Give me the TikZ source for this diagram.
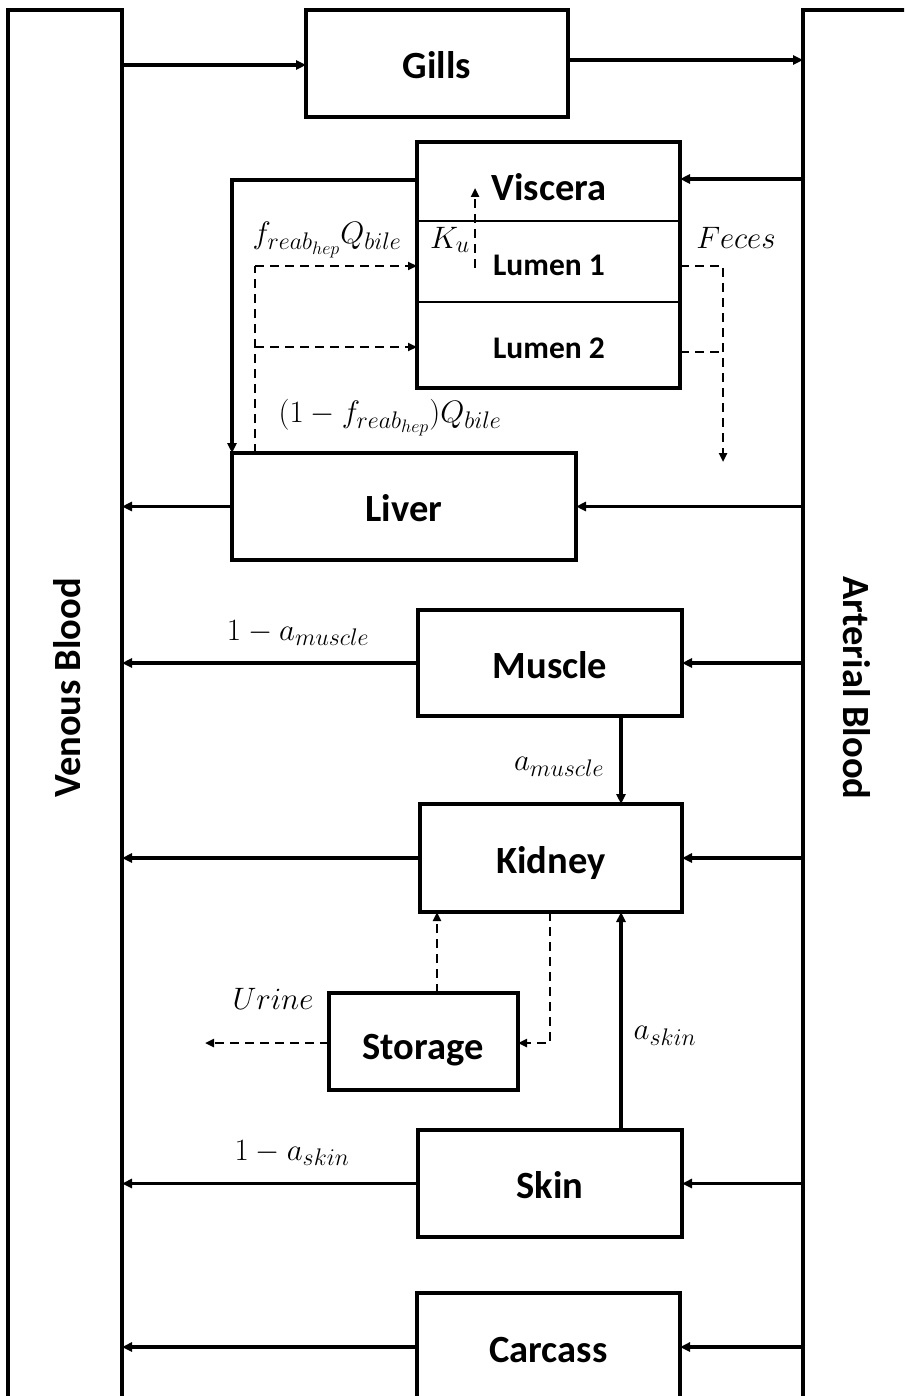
\RequirePackage{fix-cm}
\documentclass[tikz,border=0pt]{standalone}
\usepackage{fontspec}
\newfontfamily\boxfont[BoldFont={Carlito Bold}]{Carlito}
\usetikzlibrary{arrows.meta,calc}
\DeclareMathSizes{31}{31}{24}{18}

\tikzset{
  organ/.style={draw, line width=4.5pt, rectangle, inner sep=0pt, outer sep=0pt,
    text height=30pt, text depth=0pt,
    font=\boxfont\bfseries\fontsize{38.5}{42}\selectfont},
  sublabel/.style={inner sep=0pt, font=\boxfont\bfseries\fontsize{31.5}{34}\selectfont},
  flow/.style={line width=3.1pt, -{Triangle[length=10pt,width=9pt]}},
  dflow/.style={line width=2.5pt, dash pattern=on 9pt off 6pt, -{Triangle[length=9pt,width=8pt]}},
  dline/.style={line width=2.5pt, dash pattern=on 9pt off 6pt},
  rate/.style={inner sep=0pt, font=\fontsize{31}{34}\selectfont}
}

\begin{document}
\begin{tikzpicture}[x=1pt, y=-1pt]
\useasboundingbox (0,0) rectangle (904,1396);
\fill[white] (0,0) rectangle (904,1396);
\begin{scope}
\clip (0,0) rectangle (904,1396);

% blood pools
\node[organ, minimum width=114, minimum height=1395] (venous) at (65,707.5) {};
\node[organ, minimum width=130, minimum height=1395] (arterial) at (868,707.5) {};
\node[font=\boxfont\bfseries\fontsize{38.5}{42}\selectfont, rotate=90] (vlabel) at (67,688) {Venous Blood};
\node[font=\boxfont\bfseries\fontsize{38.5}{42}\selectfont, rotate=-90] (alabel) at (857,688) {Arterial Blood};

% compartments
\node[organ, minimum width=262, minimum height=107] (gills) at (437,63.5) {Gills};
\node[organ, minimum width=263, minimum height=246] (viscera) at (548.5,265) {};
\node[organ, minimum width=344, minimum height=107] (liver) at (404,506.5) {Liver};
\node[organ, minimum width=264, minimum height=106] (muscle) at (550,663) {Muscle};
\node[organ, minimum width=262, minimum height=108] (kidney) at (551,858) {Kidney};
\node[organ, minimum width=189, minimum height=97] (storage) at (423.5,1041.5) {};
\node[organ, minimum width=264, minimum height=107] (skin) at (550,1183.5) {Skin};
\node[organ, minimum width=263, minimum height=108] (carcass) at (548.5,1347) {Carcass};

% gut sub-compartments
\draw[line width=2pt] (viscera.west |- 0,221) -- (viscera.east |- 0,221);
\draw[line width=2pt] (viscera.west |- 0,302) -- (viscera.east |- 0,302);
\node[organ, draw=none] (vistext) at (549,186) {Viscera};
\node[sublabel] (lumen1) at (549,265) {Lumen 1};
\node[sublabel] (lumen2) at (549,348) {Lumen 2};
\node[organ, draw=none] (stortext) at (423,1044) {Storage};

% blood flows
\draw[flow] (venous.east |- 0,65) -- (gills.west |- 0,65);
\draw[flow] (gills.east |- 0,60) -- (arterial.west |- 0,60);
\draw[flow] (arterial.west |- 0,179) -- (viscera.east |- 0,179);
\draw[flow] (viscera.west |- 0,180) -| (liver.north west);
\draw[flow] (arterial.west |- liver.east) -- (liver.east);
\draw[flow] (liver.west) -- (venous.east |- liver.west);
\draw[flow] (arterial.west |- muscle.east) -- (muscle.east);
\draw[flow] (muscle.west) -- (venous.east |- muscle.west);
\draw[flow] (arterial.west |- kidney.east) -- (kidney.east);
\draw[flow] (kidney.west) -- (venous.east |- kidney.west);
\draw[flow] (arterial.west |- skin.east) -- (skin.east);
\draw[flow] (skin.west) -- (venous.east |- skin.west);
\draw[flow] (arterial.west |- carcass.east) -- (carcass.east);
\draw[flow] (carcass.west) -- (venous.east |- carcass.west);
\coordinate (mk) at (621,0);
\draw[flow] (mk |- muscle.south) -- (mk |- kidney.north);
\draw[flow] (mk |- skin.north) -- (mk |- kidney.south);

% bile and gut exchange
\coordinate (bt) at (255,266);
\coordinate (bm) at (255,347);
\draw[dline] (liver.north west -| bt) -- (bt);
\draw[dflow] (bt) -- (viscera.west |- bt);
\draw[dflow] (bm) -- (viscera.west |- bm);
\coordinate (ku1) at (475,268);
\coordinate (ku2) at (475,188);
\draw[dflow] (ku1) -- (ku2);
\coordinate (fx) at (723,266);
\coordinate (fend) at (723,462);
\draw[dflow] (viscera.east |- fx) -- (fx) -- (fend);
\draw[dline] (viscera.east |- 0,352) -- (fx |- 0,352);

% urinary route
\coordinate (su) at (437,0);
\coordinate (kd) at (550,1043);
\draw[dflow] (su |- storage.north) -- (su |- kidney.south);
\draw[dflow] (kd |- kidney.south) -- (kd) -- (storage.east |- kd);
\coordinate (uend) at (205,1043);
\draw[dflow] (storage.west |- uend) -- (uend);

% rate labels
\node[rate] (l1) at (327,240) {$f_{reab_{hep}}Q_{bile}$};
\node[rate, anchor=east] (l2) at (470,240) {$K_u$};
\node[rate] (l3) at (736,238) {$Feces$};
\node[rate] (l4) at (390,418) {$(1-f_{reab_{hep}})Q_{bile}$};
\node[rate] (l5) at (298,633) {$1-a_{muscle}$};
\node[rate] (l6) at (559,767) {$a_{muscle}$};
\node[rate] (l7) at (273,999) {$Urine$};
\node[rate] (l8) at (665,1036) {$a_{skin}$};
\node[rate] (l9) at (292,1153) {$1-a_{skin}$};
\end{scope}
\end{tikzpicture}
\end{document}
